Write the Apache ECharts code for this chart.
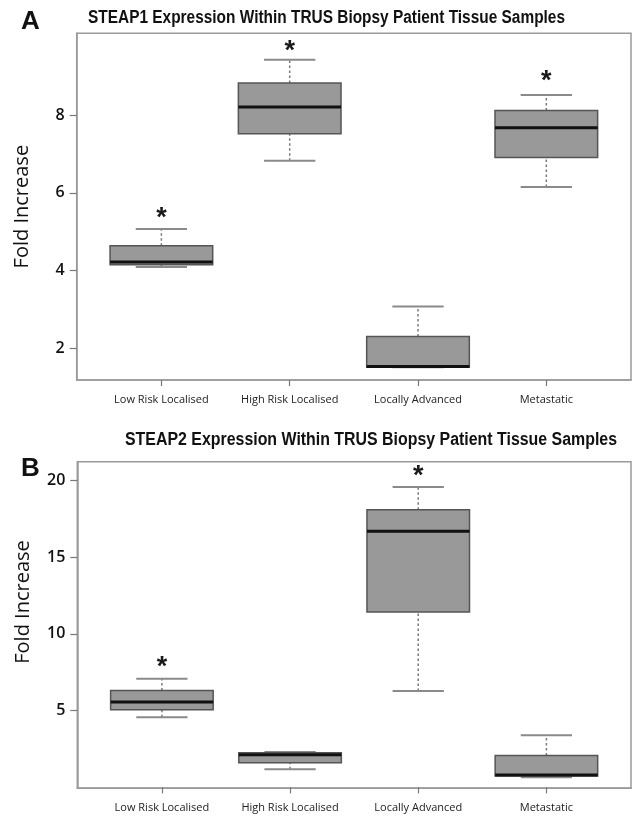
<!DOCTYPE html>
<html><head><meta charset="utf-8">
<script src="https://cdn.jsdelivr.net/npm/echarts@6/dist/echarts.min.js"></script>
<style>html,body{margin:0;padding:0;background:#fff}#c{width:633px;height:817px}</style>
</head><body><div id="c"></div>
<script>
const categories = ['Low Risk Localised', 'High Risk Localised', 'Locally Advanced', 'Metastatic'];

// Panel A: STEAP1
const steap1Min    = [4.09, 6.83, 1.51, 6.15];
const steap1Q1     = [4.15, 7.52, 1.51, 6.91];
const steap1Median = [4.22, 8.21, 1.53, 7.68];
const steap1Q3     = [4.64, 8.83, 2.30, 8.12];
const steap1Max    = [5.07, 9.43, 3.07, 8.52];
const steap1Star   = [5.48, 9.77, null, 9.00];
const steap1Ticks  = [2, 4, 6, 8];

// Panel B: STEAP2
const steap2Min    = [4.57, 1.18, 6.28, 0.66];
const steap2Q1     = [5.05, 1.61, 11.41, 0.74];
const steap2Median = [5.55, 2.13, 16.67, 0.81];
const steap2Q3     = [6.30, 2.26, 18.08, 2.07];
const steap2Max    = [7.07, 2.31, 19.56, 3.40];
const steap2Star   = [8.19, null, 20.58, null];
const steap2Ticks  = [5, 10, 15, 20];

const titleA = 'STEAP1 Expression Within TRUS Biopsy Patient Tissue Samples';
const titleB = 'STEAP2 Expression Within TRUS Biopsy Patient Tissue Samples';

const catPos = [1, 2, 3, 4];

function buildData(mn, q1, md, q3, mx) {
  return categories.map((c, i) => [catPos[i], mn[i], q1[i], md[i], q3[i], mx[i]]);
}

function makeRender(stars) {
  return function (params, api) {
    const x = api.value(0);
    const pMin = api.coord([x, api.value(1)]);
    const pQ1 = api.coord([x, api.value(2)]);
    const pMd = api.coord([x, api.value(3)]);
    const pQ3 = api.coord([x, api.value(4)]);
    const pMx = api.coord([x, api.value(5)]);
    const half = 0.4, cap = 0.2;
    const xl = api.coord([x - half, api.value(3)])[0];
    const xr = api.coord([x + half, api.value(3)])[0];
    const cl = api.coord([x - cap, api.value(3)])[0];
    const cr = api.coord([x + cap, api.value(3)])[0];
    const dash = { stroke: '#7a7a7a', lineWidth: 1.5, lineDash: [2.5, 2.5] };
    const capStyle = { stroke: '#8a8a8a', lineWidth: 2 };
    const children = [
      { type: 'line', shape: { x1: pQ3[0], y1: pQ3[1], x2: pMx[0], y2: pMx[1] }, style: dash },
      { type: 'line', shape: { x1: pMin[0], y1: pMin[1], x2: pQ1[0], y2: pQ1[1] }, style: dash },
      { type: 'line', shape: { x1: cl, y1: pMx[1], x2: cr, y2: pMx[1] }, style: capStyle },
      { type: 'line', shape: { x1: cl, y1: pMin[1], x2: cr, y2: pMin[1] }, style: capStyle },
      { type: 'rect', shape: { x: xl, y: pQ3[1], width: xr - xl, height: pQ1[1] - pQ3[1] },
        style: { fill: '#999999', stroke: '#555', lineWidth: 1.5 } },
      { type: 'line', shape: { x1: xl, y1: pMd[1], x2: xr, y2: pMd[1] }, style: { stroke: '#111', lineWidth: 3 } }
    ];
    const s = stars[params.dataIndex];
    if (s != null) {
      const p = api.coord([x, s]);
      children.push({ type: 'text', x: p[0], y: p[1] + 5.5,
        style: { text: '*', align: 'center', verticalAlign: 'middle', fontSize: 27, fontWeight: 'bold',
                 fontFamily: 'Liberation Sans', fill: '#1a1a1a' } });
    }
    return { type: 'group', children };
  };
}

function xAxisDef(gi) {
  return {
    gridIndex: gi, type: 'value', min: 0.34, max: 4.66,
    splitLine: { show: false },
    axisLine: { show: true, lineStyle: { color: '#9a9a9a', width: 1.5 } },
    axisTick: { show: true, customValues: catPos, length: 6, lineStyle: { color: '#777', width: 1.2 } },
    axisLabel: { customValues: catPos, formatter: v => categories[Math.round(v) - 1], margin: 14,
                 fontSize: 11, color: '#222', fontFamily: 'Open Sans' }
  };
}
function yAxisDef(gi, min, max, ticks, nameGap, namePad) {
  return {
    gridIndex: gi, type: 'value', min: min, max: max,
    name: 'Fold Increase', nameLocation: 'middle', nameRotate: 90, nameGap: nameGap,
    nameTextStyle: { fontSize: 20, fontWeight: 500, color: '#111', fontFamily: 'Open Sans', padding: namePad },
    splitLine: { show: false },
    axisLine: { show: true, lineStyle: { color: '#9a9a9a', width: 1.5 } },
    axisTick: { show: true, customValues: ticks, length: 7, lineStyle: { color: '#777', width: 1.2 } },
    axisLabel: { customValues: ticks, margin: 12, fontSize: 16, fontWeight: 600, color: '#111', fontFamily: 'Open Sans' }
  };
}

// Fit a bold sans title into the narrow width used by the reference
const titleFont = 'bold 18px "Liberation Sans"';
function fitScale(text, target) {
  const ctx = document.createElement('canvas').getContext('2d');
  ctx.font = titleFont;
  return target / ctx.measureText(text).width;
}
function titleGraphic(text, x, y, target) {
  return { type: 'text', x: x, y: y, scaleX: fitScale(text, target), scaleY: 1,
    style: { text: text, fontSize: 18, fontWeight: 'bold', fontFamily: 'Liberation Sans', fill: '#111',
             align: 'left', verticalAlign: 'top' } };
}

const chart = echarts.init(document.getElementById('c'), null, { renderer: 'canvas' });
chart.setOption({
  animation: false,
  backgroundColor: '#fff',
  title: [
    { text: 'A', left: 21, top: 9, padding: 0,
      textStyle: { fontFamily: 'Liberation Sans', fontWeight: 'bold', fontSize: 26, color: '#111' } },
    { text: 'B', left: 21, top: 456, padding: 0,
      textStyle: { fontFamily: 'Liberation Sans', fontWeight: 'bold', fontSize: 26, color: '#111' } }
  ],
  graphic: [
    titleGraphic(titleA, 88, 9, 477),
    titleGraphic(titleB, 125, 431, 492)
  ],
  grid: [
    { left: 76.7, top: 33.3, right: 2, bottom: 437, show: true, borderColor: '#9a9a9a', borderWidth: 1.5,
      outerBoundsMode: 'none' },
    { left: 77.3, top: 461.7, right: 2, bottom: 28.7, show: true, borderColor: '#9a9a9a', borderWidth: 1.5,
      outerBoundsMode: 'none' }
  ],
  xAxis: [xAxisDef(0), xAxisDef(1)],
  yAxis: [yAxisDef(0, 1.18, 10.11, steap1Ticks, 44, 0), yAxisDef(1, -0.06, 21.2, steap2Ticks, 44, [0, 0, 0, 46])],
  series: [
    { type: 'custom', xAxisIndex: 0, yAxisIndex: 0, clip: false,
      data: buildData(steap1Min, steap1Q1, steap1Median, steap1Q3, steap1Max),
      encode: { x: 0, y: [1, 2, 3, 4, 5] }, renderItem: makeRender(steap1Star) },
    { type: 'custom', xAxisIndex: 1, yAxisIndex: 1, clip: false,
      data: buildData(steap2Min, steap2Q1, steap2Median, steap2Q3, steap2Max),
      encode: { x: 0, y: [1, 2, 3, 4, 5] }, renderItem: makeRender(steap2Star) }
  ]
});
</script></body></html>
